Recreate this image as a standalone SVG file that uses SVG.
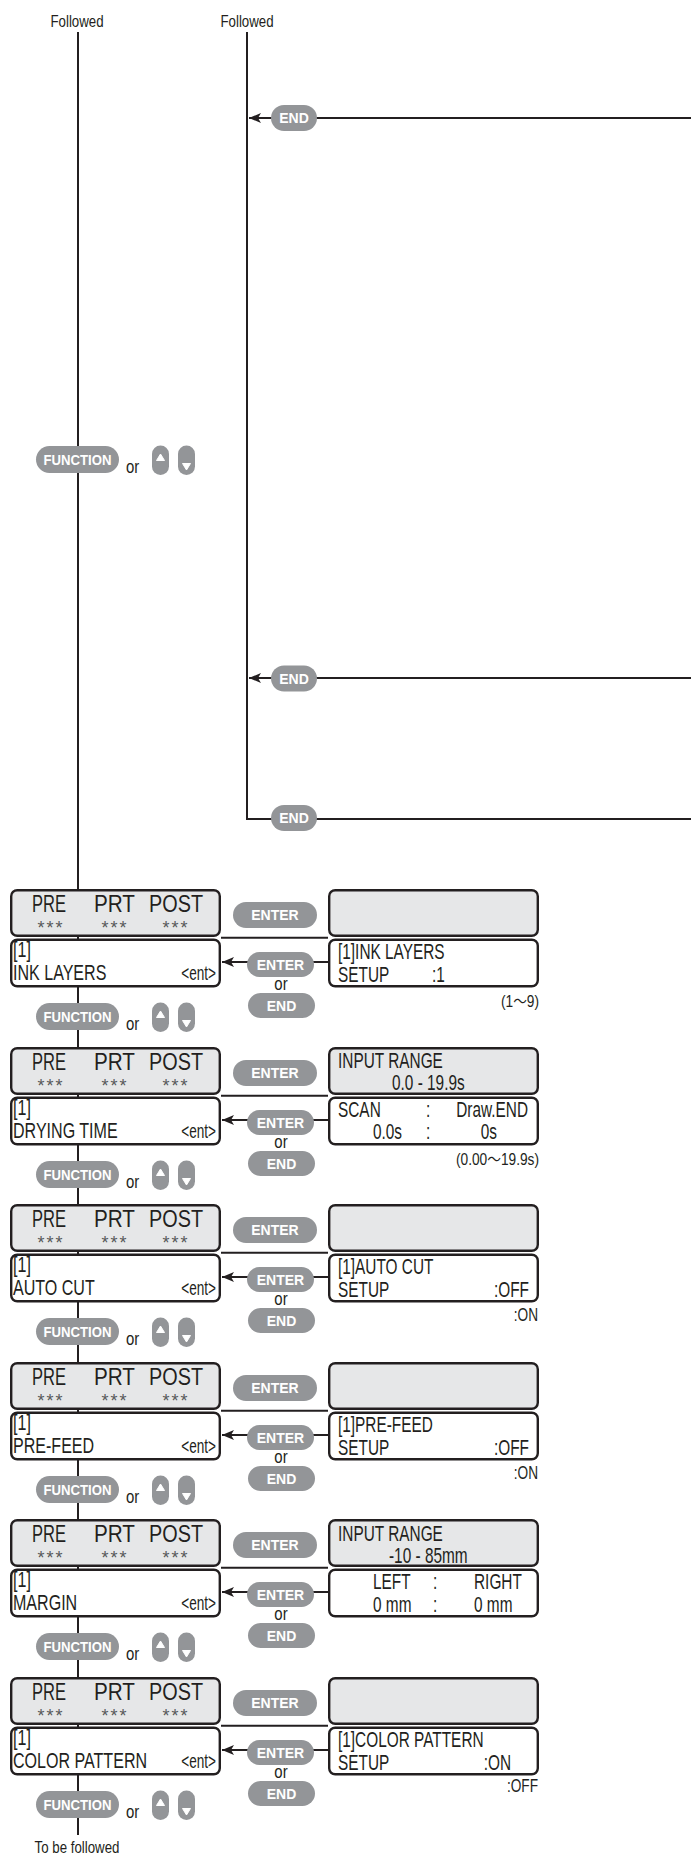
<svg xmlns="http://www.w3.org/2000/svg" width="691" height="1859" viewBox="0 0 691 1859">
<style>
.t{font-family:"Liberation Sans",Arial,sans-serif;fill:#231f20}
.lcd{font-size:22px}
.ast{font-size:18px;fill:#58595b;text-anchor:middle}
.note{font-size:16px;text-anchor:end}
.sm{font-size:16px;text-anchor:middle}
.or{font-size:18px}
.box{stroke:#231f20;stroke-width:2.4}
.top{fill:#e6e7e8}
.bot{fill:#fff}
.pill{fill:#939598}
.pt{font-family:"Liberation Sans",Arial,sans-serif;font-weight:bold;font-size:14px;fill:#fff;text-anchor:middle}
.line{stroke:#231f20;stroke-width:2;fill:none}
.tri{fill:#fff;stroke:#fff;stroke-width:1;stroke-linejoin:round}
.end{text-anchor:end}
.mid{text-anchor:middle}
</style>
<defs>
<marker id="arr" markerUnits="userSpaceOnUse" markerWidth="13" markerHeight="11" refX="12" refY="5" orient="auto">
<path d="M0,0 L12,5 L0,10 L3,5 Z" fill="#231f20"/>
</marker>
<g id="lcdLeft">
<rect class="box top" x="11.2" y="1.2" width="208.6" height="45.6" rx="6"/>
<rect class="box bot" x="11.2" y="50.7" width="208.6" height="46.6" rx="6"/>
<text class="t" style="font-size:23px" x="32" y="23" textLength="34" lengthAdjust="spacingAndGlyphs">PRE</text>
<text class="t" style="font-size:23px" x="94" y="23" textLength="41" lengthAdjust="spacingAndGlyphs">PRT</text>
<text class="t" style="font-size:23px" x="149" y="23" textLength="54" lengthAdjust="spacingAndGlyphs">POST</text>
<text class="t ast" x="50" y="45" textLength="25" lengthAdjust="spacing">***</text>
<text class="t ast" x="114" y="45" textLength="25" lengthAdjust="spacing">***</text>
<text class="t ast" x="175" y="45" textLength="25" lengthAdjust="spacing">***</text>
<text class="t lcd" transform="translate(13 68) scale(.73 1)">[1]</text>
<text class="t end" style="font-size:20px" transform="translate(216 91) scale(.68 1)">&lt;ent&gt;</text>
</g>
<g id="lcdRight">
<rect class="box top" x="329.2" y="1.2" width="208.6" height="45.6" rx="6"/>
<rect class="box bot" x="329.2" y="50.7" width="208.6" height="46.6" rx="6"/>
</g>
<g id="keys">
<rect class="pill" x="233" y="13" width="84" height="26" rx="13"/>
<text class="pt" x="275" y="31">ENTER</text>
<rect class="pill" x="247" y="63" width="67" height="25" rx="12.5"/>
<text class="pt" x="280.5" y="80.5">ENTER</text>
<text class="t or mid" transform="translate(281 101) scale(.83 1)">or</text>
<rect class="pill" x="248" y="104" width="67" height="25" rx="12.5"/>
<text class="pt" x="281.5" y="121.5">END</text>
</g>
<g id="fn">
<rect class="pill" x="36" y="-13.5" width="83" height="27" rx="13.5"/>
<text class="pt" x="77.5" y="5" textLength="68" lengthAdjust="spacingAndGlyphs">FUNCTION</text>
<text class="t or" transform="translate(126 13.5) scale(.83 1)">or</text>
<rect class="pill" x="152" y="-14" width="17" height="29.5" rx="8.5"/>
<path class="tri" d="M160.5,-5.5 L156.5,1 L164.5,1 Z"/>
<rect class="pill" x="178" y="-14" width="17" height="29.5" rx="8.5"/>
<path class="tri" d="M182.5,4 L190.5,4 L186.5,10.5 Z"/>
</g>
</defs>

<g id="connectors">
<path class="line" d="M78 32 V1835"/>
<path class="line" d="M247 32 V819 H691"/>
<path class="line" d="M691 118 H249" marker-end="url(#arr)"/>
<path class="line" d="M691 678 H249" marker-end="url(#arr)"/>
<path class="line" d="M221 937.8 H328"/>
<path class="line" d="M328 962 H222" marker-end="url(#arr)"/>
<path class="line" d="M221 1095.8 H328"/>
<path class="line" d="M328 1120 H222" marker-end="url(#arr)"/>
<path class="line" d="M221 1252.8 H328"/>
<path class="line" d="M328 1277 H222" marker-end="url(#arr)"/>
<path class="line" d="M221 1410.8 H328"/>
<path class="line" d="M328 1435 H222" marker-end="url(#arr)"/>
<path class="line" d="M221 1567.8 H328"/>
<path class="line" d="M328 1592 H222" marker-end="url(#arr)"/>
<path class="line" d="M221 1725.8 H328"/>
<path class="line" d="M328 1750 H222" marker-end="url(#arr)"/>
</g>

<g id="labels">
<text class="t sm" transform="translate(77 27) scale(.83 1)">Followed</text>
<text class="t sm" transform="translate(247 27) scale(.83 1)">Followed</text>
<text class="t sm" transform="translate(77 1853) scale(.83 1)">To be followed</text>
</g>

<g id="end-top">
<rect class="pill" x="271" y="105" width="46" height="26" rx="13"/>
<text class="pt" x="294" y="123">END</text>
</g>
<g id="end-middle">
<rect class="pill" x="271" y="665.5" width="46" height="26" rx="13"/>
<text class="pt" x="294" y="683.5">END</text>
</g>
<g id="end-bottom">
<rect class="pill" x="271" y="805" width="46" height="26" rx="13"/>
<text class="pt" x="294" y="823">END</text>
</g>
<g id="function-top" transform="translate(0 459.5)"><use href="#fn"/></g>

<g id="block-ink-layers" transform="translate(0 889)">
<g id="ink-layers-menu"><use href="#lcdLeft"/>
<text class="t lcd" transform="translate(13 91) scale(.73 1)">INK LAYERS</text></g>
<g id="ink-layers-setup"><use href="#lcdRight"/>
<text class="t lcd" transform="translate(338 70) scale(.7 1)">[1]INK LAYERS</text>
<text class="t lcd" transform="translate(338 93) scale(.7 1)">SETUP</text>
<text class="t lcd" transform="translate(432 93) scale(.7 1)">:1</text>
<text class="t note" x="539" y="118" textLength="38" lengthAdjust="spacingAndGlyphs" style="font-family:'Liberation Sans','Noto Sans CJK JP',sans-serif">(1～9)</text></g>
<g id="ink-layers-keys"><use href="#keys"/></g>
<g id="ink-layers-function" transform="translate(0 127.5)"><use href="#fn"/></g>
</g>

<g id="block-drying-time" transform="translate(0 1047)">
<g id="drying-time-menu"><use href="#lcdLeft"/>
<text class="t lcd" transform="translate(13 91) scale(.73 1)">DRYING TIME</text></g>
<g id="drying-time-setup"><use href="#lcdRight"/>
<text class="t lcd" transform="translate(338 21) scale(.7 1)">INPUT RANGE</text>
<text class="t lcd" transform="translate(392 43) scale(.7 1)">0.0 - 19.9s</text>
<text class="t lcd" transform="translate(338 70) scale(.7 1)">SCAN</text>
<text class="t lcd" transform="translate(426 70) scale(.7 1)">:</text>
<text class="t lcd end" transform="translate(528 70) scale(.7 1)">Draw.END</text>
<text class="t lcd end" transform="translate(402 92) scale(.7 1)">0.0s</text>
<text class="t lcd" transform="translate(426 92) scale(.7 1)">:</text>
<text class="t lcd end" transform="translate(497 92) scale(.7 1)">0s</text>
<text class="t note" x="539" y="118" textLength="83" lengthAdjust="spacingAndGlyphs" style="font-family:'Liberation Sans','Noto Sans CJK JP',sans-serif">(0.00～19.9s)</text></g>
<g id="drying-time-keys"><use href="#keys"/></g>
<g id="drying-time-function" transform="translate(0 127.5)"><use href="#fn"/></g>
</g>

<g id="block-auto-cut" transform="translate(0 1204)">
<g id="auto-cut-menu"><use href="#lcdLeft"/>
<text class="t lcd" transform="translate(13 91) scale(.73 1)">AUTO CUT</text></g>
<g id="auto-cut-setup"><use href="#lcdRight"/>
<text class="t lcd" transform="translate(338 70) scale(.7 1)">[1]AUTO CUT</text>
<text class="t lcd" transform="translate(338 93) scale(.7 1)">SETUP</text>
<text class="t lcd end" transform="translate(529 93) scale(.7 1)">:OFF</text>
<text class="t end" style="font-size:19px" transform="translate(538 117) scale(.72 1)">:ON</text></g>
<g id="auto-cut-keys"><use href="#keys"/></g>
<g id="auto-cut-function" transform="translate(0 127.5)"><use href="#fn"/></g>
</g>

<g id="block-pre-feed" transform="translate(0 1362)">
<g id="pre-feed-menu"><use href="#lcdLeft"/>
<text class="t lcd" transform="translate(13 91) scale(.73 1)">PRE-FEED</text></g>
<g id="pre-feed-setup"><use href="#lcdRight"/>
<text class="t lcd" transform="translate(338 70) scale(.7 1)">[1]PRE-FEED</text>
<text class="t lcd" transform="translate(338 93) scale(.7 1)">SETUP</text>
<text class="t lcd end" transform="translate(529 93) scale(.7 1)">:OFF</text>
<text class="t end" style="font-size:19px" transform="translate(538 117) scale(.72 1)">:ON</text></g>
<g id="pre-feed-keys"><use href="#keys"/></g>
<g id="pre-feed-function" transform="translate(0 127.5)"><use href="#fn"/></g>
</g>

<g id="block-margin" transform="translate(0 1519)">
<g id="margin-menu"><use href="#lcdLeft"/>
<text class="t lcd" transform="translate(13 91) scale(.73 1)">MARGIN</text></g>
<g id="margin-setup"><use href="#lcdRight"/>
<text class="t lcd" transform="translate(338 22) scale(.7 1)">INPUT RANGE</text>
<text class="t lcd" transform="translate(389 44) scale(.7 1)">-10 - 85mm</text>
<text class="t lcd" transform="translate(373 70) scale(.7 1)">LEFT</text>
<text class="t lcd" transform="translate(433 70) scale(.7 1)">:</text>
<text class="t lcd" transform="translate(474 70) scale(.7 1)">RIGHT</text>
<text class="t lcd" transform="translate(373 93) scale(.7 1)">0 mm</text>
<text class="t lcd" transform="translate(433 93) scale(.7 1)">:</text>
<text class="t lcd" transform="translate(474 93) scale(.7 1)">0 mm</text></g>
<g id="margin-keys"><use href="#keys"/></g>
<g id="margin-function" transform="translate(0 127.5)"><use href="#fn"/></g>
</g>

<g id="block-color-pattern" transform="translate(0 1677)">
<g id="color-pattern-menu"><use href="#lcdLeft"/>
<text class="t lcd" transform="translate(13 91) scale(.73 1)">COLOR PATTERN</text></g>
<g id="color-pattern-setup"><use href="#lcdRight"/>
<text class="t lcd" transform="translate(338 70) scale(.7 1)">[1]COLOR PATTERN</text>
<text class="t lcd" transform="translate(338 93) scale(.7 1)">SETUP</text>
<text class="t lcd end" transform="translate(511 93) scale(.7 1)">:ON</text>
<text class="t end" style="font-size:19px" transform="translate(538 115) scale(.72 1)">:OFF</text></g>
<g id="color-pattern-keys"><use href="#keys"/></g>
<g id="color-pattern-function" transform="translate(0 127.5)"><use href="#fn"/></g>
</g>
</svg>
